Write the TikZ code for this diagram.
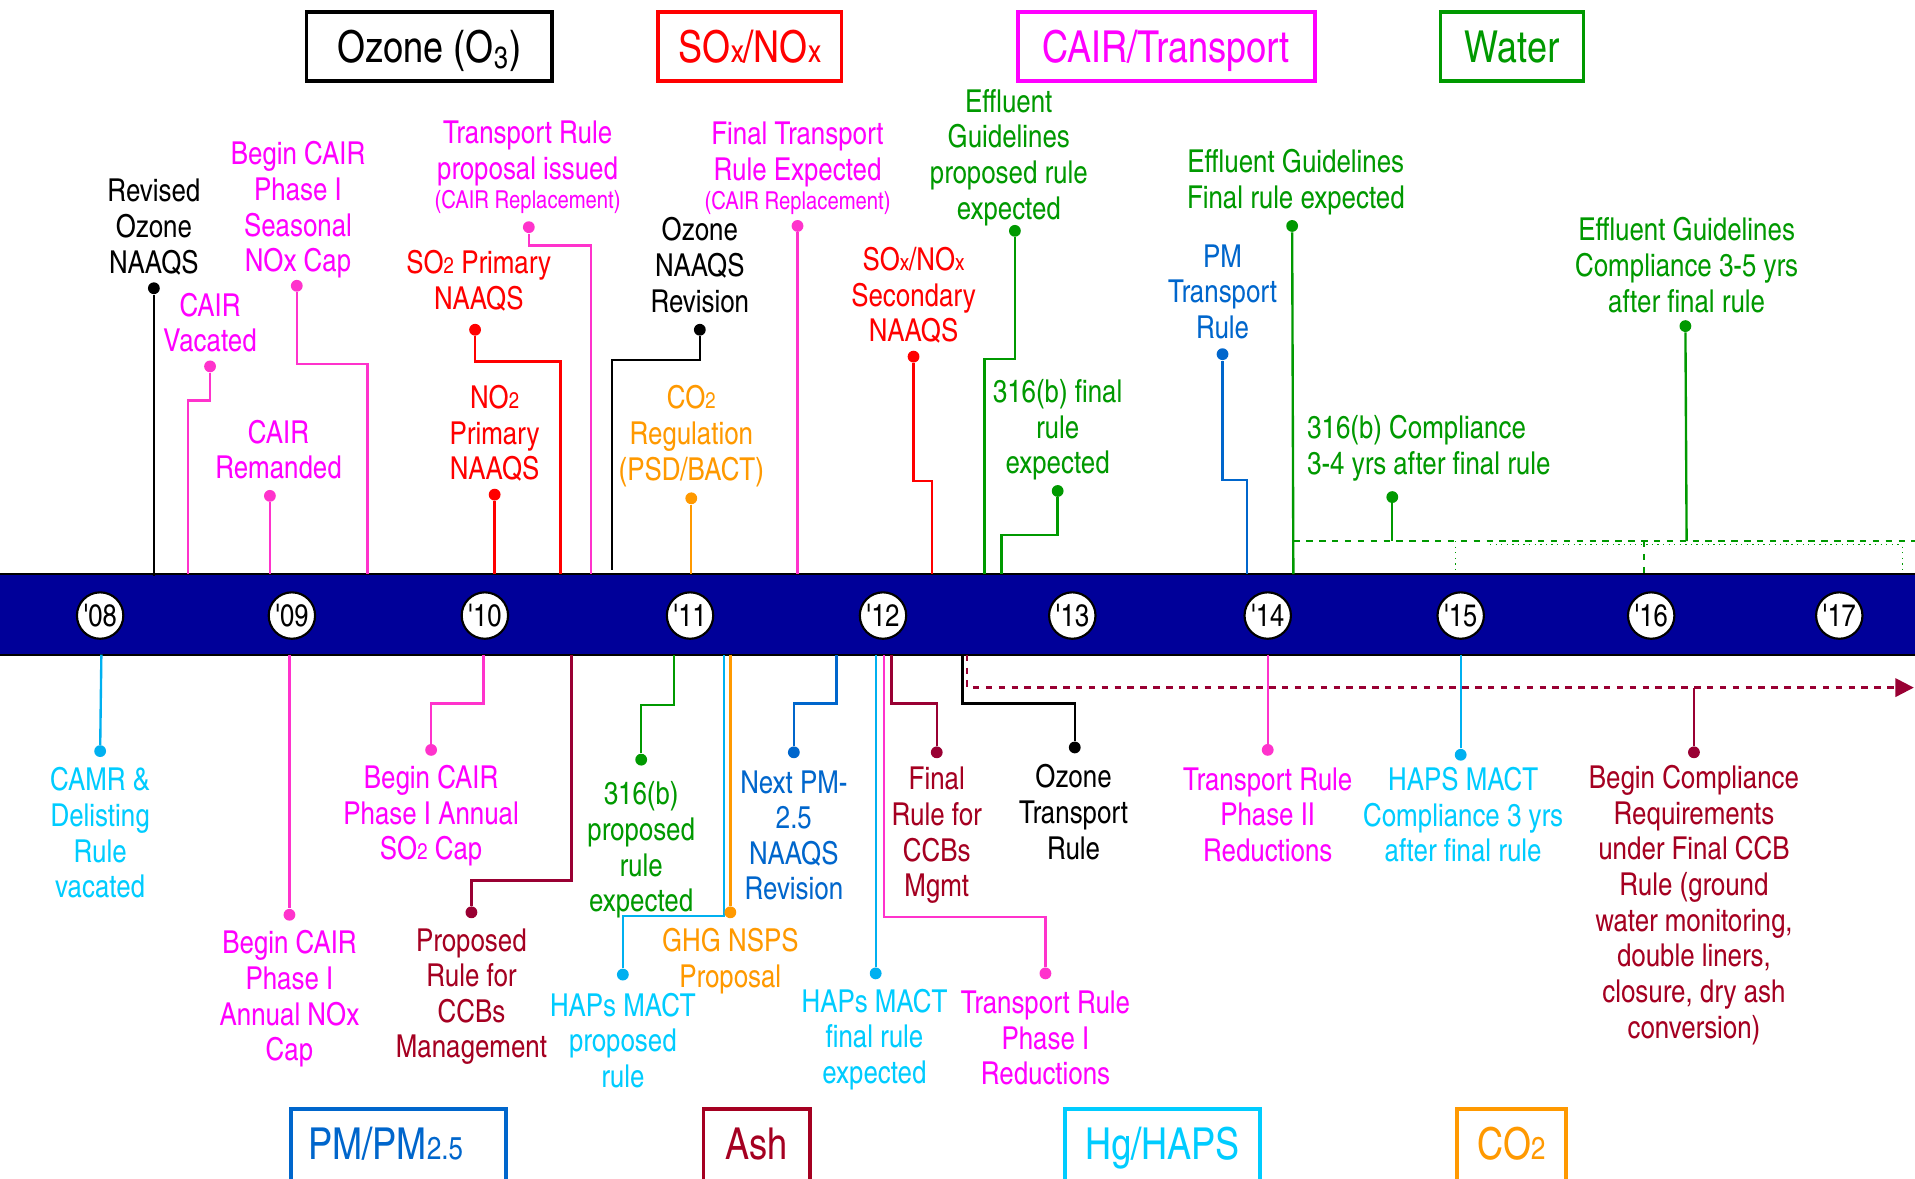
\documentclass[tikz,border=0pt]{standalone}
\usepackage{fontspec}
\setmainfont{TeX Gyre Heros Cn}
\usepackage{tikz}
\usetikzlibrary{arrows.meta}

\definecolor{barblue}{RGB}{0,0,153}
\definecolor{cairtxt}{RGB}{255,0,255}
\definecolor{cairpink}{RGB}{255,51,204}
\definecolor{soxred}{RGB}{255,0,0}
\definecolor{co2orange}{RGB}{255,153,0}
\definecolor{watgreen}{RGB}{0,153,0}
\definecolor{pmblue}{RGB}{0,102,204}
\definecolor{hgtxt}{RGB}{0,204,255}
\definecolor{hgline}{RGB}{0,176,240}
\definecolor{ashred}{RGB}{165,0,33}
\definecolor{ashline}{RGB}{153,0,51}

\newcommand{\evfont}{\fontsize{14.7}{16.6}\selectfont}
\newcommand{\catfont}{\fontsize{20.5}{24}\selectfont}
\newcommand{\yearfont}{\fontsize{14.5}{16}\selectfont}
\newcommand{\smallnote}{\fontsize{11.5}{13}\selectfont}
\newcommand{\sm}[1]{\scalebox{0.72}{#1}}

\tikzset{
  evnote/.style={align=center, font=\evfont, inner sep=0pt},
  evpin/.style={circle, inner sep=0pt, minimum size=5.5pt},
  evline/.style={line width=1.1pt},
  yearball/.style={circle, draw=black, fill=white, line width=1pt, minimum size=7.6mm, inner sep=0pt, font=\yearfont},
  catbox/.style={draw, line width=1.8pt, inner xsep=0pt, inner ysep=0pt, text height=8.2mm, text depth=3mm, anchor=base, font=\catfont},
  lowbox/.style={catbox, text depth=8mm}
}

\newcommand{\evtext}[5][]{\node at (#2) (#3) [evnote, text=#4, #1] {#5};}
\newcommand{\evdot}[3]{\node at (#1) (#2) [evpin, fill=#3] {};}
\newcommand{\evstem}[3]{\draw [evline, #3] (#1) -- (#2);}
\newcommand{\evknee}[4]{\draw [evline, #4] (#1) |- (#2) -- (#3);}
\newcommand{\yearmark}[3]{\node at (#1) (#2) [yearball] {\textquotesingle#3};}
\newcommand{\catlabel}[6][catbox]{\node at (#2) (#3) [#1, minimum width=#5, draw=#4, text=#4] {#6};}

\begin{document}
\begin{tikzpicture}[x=0.2mm, y=-0.2mm]

\useasboundingbox (0,0) rectangle (1568,965);
\fill [white] (0,0) rectangle (1568,965);

% category boxes
\catlabel {351.5,51}{ozone}{black}{40.2mm}{Ozone (O\textsubscript{3})}
\catlabel {614,51}{soxnox}{soxred}{30mm}{SO\sm{x}/NO\sm{x}}
\catlabel {955,51}{cair}{cairtxt}{48.6mm}{CAIR/Transport}
\catlabel {1238,51}{water}{watgreen}{23.4mm}{Water}
\catlabel [lowbox]{326,949}{pm}{pmblue}{35.2mm}{PM/PM\sm{2.5}\hspace*{4mm}}
\catlabel [lowbox]{619.5,949}{ash}{ashred}{17.4mm}{Ash}
\catlabel [lowbox]{952,949}{hg}{hgtxt}{32mm}{Hg/HAPS}
\catlabel [lowbox]{1237.5,949}{co2box}{co2orange}{17.8mm}{CO\sm{2}}

% time bar
\fill [barblue] (0,470) rectangle (1568,536);
\draw [line width=1pt] (0,470) -- (1568,470) (0,536) -- (1568,536);

\yearmark {82,504}{y08}{08}
\yearmark {239,504}{y09}{09}
\yearmark {397,504}{y10}{10}
\yearmark {565,504}{y11}{11}
\yearmark {723,504}{y12}{12}
\yearmark {878,504}{y13}{13}
\yearmark {1038,504}{y14}{14}
\yearmark {1196,504}{y15}{15}
\yearmark {1352,504}{y16}{16}
\yearmark {1506,504}{y17}{17}

% above the bar
\evtext {126,186}{revoz}{black}{Revised\\Ozone\\NAAQS}
\evdot {126,236}{revozd}{black}
\coordinate (revozb) at (126,472);
\evstem {revozd}{revozb}{black}

\evtext {172,264}{vac}{cairtxt}{CAIR\\Vacated}
\evdot {172,300}{vacd}{cairpink}
\coordinate (vac1) at (154,328);
\coordinate (vac2) at (154,470);
\evknee {vacd}{vac1}{vac2}{cairpink}

\evtext {244,172}{seas}{cairtxt}{Begin CAIR\\Phase I\\Seasonal\\NOx Cap}
\evdot {243,234}{seasd}{cairpink}
\coordinate (seas1) at (301,298);
\coordinate (seas2) at (301,470);
\evknee {seasd}{seas1}{seas2}{cairpink}

\evtext {228,368}{rem}{cairtxt}{CAIR\\Remanded}
\evdot {221,406}{remd}{cairpink}
\coordinate (remb) at (221,470);
\evstem {remd}{remb}{cairpink}

\evtext {432,137}{trprop}{cairtxt}{Transport Rule\\proposal issued\\[-3pt]{\smallnote (CAIR Replacement)}}
\evdot {433,186}{trpropd}{cairpink}
\coordinate (trprop1) at (484,201);
\coordinate (trprop2) at (484,470);
\evknee {trpropd}{trprop1}{trprop2}{cairpink}

\evtext {392,230}{so2}{soxred}{SO\sm{2} Primary\\NAAQS}
\evdot {389,270}{so2d}{soxred}
\coordinate (so21) at (459,296);
\coordinate (so22) at (459,470);
\evknee {so2d}{so21}{so22}{soxred}

\evtext {405,355}{no2}{soxred}{NO\sm{2}\\Primary\\NAAQS}
\evdot {405,405}{no2d}{soxred}
\coordinate (no2b) at (405,470);
\evstem {no2d}{no2b}{soxred}

\evtext {573,217}{ozrev}{black}{Ozone\\NAAQS\\Revision}
\evdot {573,270}{ozrevd}{black}
\coordinate (ozrev1) at (501,295);
\coordinate (ozrev2) at (501,467);
\evknee {ozrevd}{ozrev1}{ozrev2}{black}

\evtext {566,357}{co2reg}{co2orange}{CO\sm{2}\\Regulation\\(PSD/BACT)}
\evdot {566,408}{co2regd}{co2orange}
\coordinate (co2regb) at (566,470);
\evstem {co2regd}{co2regb}{co2orange}

\evtext {653,138}{trfin}{cairtxt}{Final Transport\\Rule Expected\\[-3pt]{\smallnote (CAIR Replacement)}}
\evdot {653,185}{trfind}{cairpink}
\coordinate (trfinb) at (653,470);
\evstem {trfind}{trfinb}{cairpink}

\evtext {748,242}{sec}{soxred}{SO\sm{x}/NO\sm{x}\\Secondary\\NAAQS}
\evdot {748,292}{secd}{soxred}
\coordinate (sec1) at (763,394);
\coordinate (sec2) at (763,470);
\evknee {secd}{sec1}{sec2}{soxred}

\evtext {826,129}{effprop}{watgreen}{Effluent\\Guidelines\\proposed rule\\expected}
\evdot {831,189}{effpropd}{watgreen}
\coordinate (effprop1) at (806,294);
\coordinate (effprop2) at (806,470);
\evknee {effpropd}{effprop1}{effprop2}{watgreen}

\evtext {866,352}{cwfin}{watgreen}{316(b) final\\rule\\expected}
\evdot {866,402}{cwfind}{watgreen}
\coordinate (cwfin1) at (820,438);
\coordinate (cwfin2) at (820,470);
\evknee {cwfind}{cwfin1}{cwfin2}{watgreen}

\evtext {1001,239}{pmtr}{pmblue}{PM\\Transport\\Rule}
\evdot {1001,290}{pmtrd}{pmblue}
\coordinate (pmtr1) at (1021,393);
\coordinate (pmtr2) at (1021,470);
\evknee {pmtrd}{pmtr1}{pmtr2}{pmblue}

\evtext {1061,149}{efffin}{watgreen}{Effluent Guidelines\\Final rule expected}
\evdot {1058,185}{efffind}{watgreen}
\coordinate (efffinb) at (1059,470);
\evstem {efffind}{efffinb}{watgreen}

% water compliance window
\coordinate (wat1) at (1059,443);
\coordinate (wat2) at (1568,443);
\draw [watgreen, line width=0.8pt, dashed] (wat1) -- (wat2);
\draw [watgreen, line width=0.6pt, dotted] (1220,446) -- (1558,446);
\draw [watgreen, line width=0.6pt, dotted] (1192,443) -- (1192,470);
\draw [watgreen, line width=0.6pt, dashed] (1346,443) -- (1346,470);
\draw [watgreen, line width=0.6pt, dotted] (1558,443) -- (1558,470);

\evtext [anchor=west, align=left]{1070,367}{cwcomp}{watgreen}{316(b) Compliance\\3-4 yrs after final rule}
\evdot {1140,407}{cwcompd}{watgreen}
\coordinate (cwcompb) at (1140,443);
\evstem {cwcompd}{cwcompb}{watgreen}

\evtext {1381,217}{effcomp}{watgreen}{Effluent Guidelines\\Compliance 3-5 yrs\\after final rule}
\evdot {1380,267}{effcompd}{watgreen}
\coordinate (effcompb) at (1381,443);
\evstem {effcompd}{effcompb}{watgreen}

% below the bar
\coordinate (ash1) at (792,536);
\coordinate (ash2) at (792,563);
\coordinate (ash3) at (1567,563);
\draw [evline, ashline, dashed, -{Triangle[length=3mm, width=3mm]}] (ash1) -- (ash2) -- (ash3);

\evtext {82,682}{camr}{hgtxt}{CAMR \&\\Delisting\\Rule\\vacated}
\evdot {82,615}{camrd}{hgline}
\coordinate (camrb) at (83,536);
\evstem {camrb}{camrd}{hgline}

\evtext {237,818}{anox}{cairtxt}{Begin CAIR\\Phase I\\Annual NOx\\Cap}
\evdot {237,749}{anoxd}{cairpink}
\coordinate (anoxb) at (237,536);
\evstem {anoxb}{anoxd}{cairpink}

\evtext {353,668}{aso2}{cairtxt}{Begin CAIR\\Phase I Annual\\SO\sm{2} Cap}
\evdot {353,614}{aso2d}{cairpink}
\coordinate (aso21) at (396,576);
\coordinate (aso22) at (396,536);
\evknee {aso2d}{aso21}{aso22}{cairpink}

\evtext {386,816}{ccbprop}{ashred}{Proposed\\Rule for\\CCBs\\Management}
\evdot {386,747}{ccbpropd}{ashline}
\coordinate (ccbprop1) at (468,721);
\coordinate (ccbprop2) at (468,536);
\evknee {ccbpropd}{ccbprop1}{ccbprop2}{ashline}

\evtext {525,696}{cwprop}{watgreen}{316(b)\\proposed\\rule\\expected}
\evdot {525,622}{cwpropd}{watgreen}
\coordinate (cwprop1) at (552,577);
\coordinate (cwprop2) at (552,536);
\evknee {cwpropd}{cwprop1}{cwprop2}{watgreen}

\evtext {510,852}{happrop}{hgtxt}{HAPs MACT\\proposed\\rule}
\evdot {510,798}{happropd}{hgline}
\coordinate (happrop1) at (593,750);
\coordinate (happrop2) at (593,536);
\evknee {happropd}{happrop1}{happrop2}{hgline}

\evtext {598,787}{ghg}{co2orange}{GHG NSPS\\Proposal}
\evdot {598,747}{ghgd}{co2orange}
\coordinate (ghgb) at (598,536);
\evstem {ghgb}{ghgd}{co2orange}

\evtext {650,684}{pmnext}{pmblue}{Next PM-\\2.5\\NAAQS\\Revision}
\evdot {650,616}{pmnextd}{pmblue}
\coordinate (pmnext1) at (685,576);
\coordinate (pmnext2) at (685,536);
\evknee {pmnextd}{pmnext1}{pmnext2}{pmblue}

\evtext {716,851}{hapfin}{hgtxt}{HAPs MACT\\final rule\\expected}
\evdot {717,797}{hapfind}{hgline}
\coordinate (hapfinb) at (717,536);
\evstem {hapfinb}{hapfind}{hgline}

\evtext {856,850}{trph1}{cairtxt}{Transport Rule\\Phase I\\Reductions}
\evdot {856,797}{trph1d}{cairpink}
\coordinate (trph11) at (724,751);
\coordinate (trph12) at (724,536);
\evknee {trph1d}{trph11}{trph12}{cairpink}

\evtext {767,684}{ccbfin}{ashred}{Final\\Rule for\\CCBs\\Mgmt}
\evdot {767,616}{ccbfind}{ashline}
\coordinate (ccbfin1) at (730,576);
\coordinate (ccbfin2) at (730,536);
\evknee {ccbfind}{ccbfin1}{ccbfin2}{ashline}

\evtext {879,665}{oztr}{black}{Ozone\\Transport\\Rule}
\evdot {880,612}{oztrd}{black}
\coordinate (oztr1) at (788,576);
\coordinate (oztr2) at (788,536);
\evknee {oztrd}{oztr1}{oztr2}{black}

\evtext {1038,667}{trph2}{cairtxt}{Transport Rule\\Phase II\\Reductions}
\evdot {1038,614}{trph2d}{cairpink}
\coordinate (trph2b) at (1038,536);
\evstem {trph2b}{trph2d}{cairpink}

\evtext {1198,667}{hapcomp}{hgtxt}{HAPS MACT\\Compliance 3 yrs\\after final rule}
\evdot {1196,618}{hapcompd}{hgline}
\coordinate (hapcompb) at (1196,536);
\evstem {hapcompb}{hapcompd}{hgline}

\evtext {1387,741}{ccbcomp}{ashred}{Begin Compliance\\Requirements\\under Final CCB\\Rule (ground\\water monitoring,\\double liners,\\closure, dry ash\\conversion)}
\evdot {1387,616}{ccbcompd}{ashline}
\coordinate (ccbcompb) at (1387,563);
\evstem {ccbcompb}{ccbcompd}{ashline}

\end{tikzpicture}
\end{document}
